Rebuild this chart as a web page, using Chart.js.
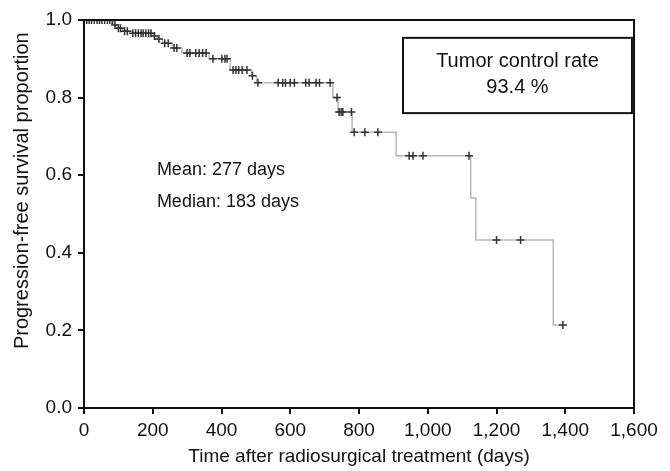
<!DOCTYPE html>
<html><head><meta charset="utf-8">
<script src="https://cdn.jsdelivr.net/npm/chart.js@4/dist/chart.umd.min.js"></script>
<style>html,body{margin:0;padding:0;background:#fff}#wrap{width:670px;height:471px}</style>
</head><body><div id="wrap"><canvas id="c" width="670" height="471"></canvas></div>
<script>
// Kaplan-Meier steps (time in days, survival after event)
const eventTimes = [0, 86, 96, 112, 138, 200, 212, 229, 257, 285, 364, 425, 488, 502, 724, 739, 780, 908, 1125, 1140, 1365, 1393];
const eventSurv  = [1.0, 0.987, 0.979, 0.971, 0.966, 0.959, 0.951, 0.940, 0.928, 0.915, 0.900, 0.871, 0.856, 0.838, 0.800, 0.763, 0.711, 0.650, 0.541, 0.433, 0.214, 0.214];
// Censored observations
const censorTimes = [8,15,22,30,38,45,52,60,68,75,82, 90, 100,106, 118,126, 142,150,158,166,172,180,188,195, 205, 218, 235,245, 262,270, 300,308,325,335,345,355, 375,401,410,416, 434,442,450,460,474, 490, 506,565,578,586,600,612,645,655,675,685,716, 736, 742,748,753,778, 786,817,855, 946,957,986,1120, 1200,1270, 1393];
const censorSurv  = [1,1,1,1,1,1,1,1,1,1,1, 0.987, 0.979,0.979, 0.971,0.971, 0.966,0.966,0.966,0.966,0.966,0.966,0.966,0.966, 0.959, 0.951, 0.940,0.940, 0.928,0.928, 0.915,0.915,0.915,0.915,0.915,0.915, 0.900,0.900,0.900,0.900, 0.871,0.871,0.871,0.871,0.871, 0.856, 0.838,0.838,0.838,0.838,0.838,0.838,0.838,0.838,0.838,0.838,0.838, 0.800, 0.763,0.763,0.763,0.763, 0.711,0.711,0.711, 0.650,0.650,0.650,0.650, 0.433,0.433, 0.214];
const xTicks = [0,200,400,600,800,1000,1200,1400,1600];
const xTickLabels = ['0','200','400','600','800','1,000','1,200','1,400','1,600'];
const yTicks = [0,0.2,0.4,0.6,0.8,1.0];
const yTickLabels = ['0.0','0.2','0.4','0.6','0.8','1.0'];
const boxLines = ['Tumor control rate', '93.4 %'];
const statLines = ['Mean: 277 days', 'Median: 183 days'];
const yTitle = 'Progression-free survival proportion';
const xTitle = 'Time after radiosurgical treatment (days)';

const FONT = "'Liberation Sans', Arial, Helvetica, sans-serif";

const annot = {
  id: 'annot',
  afterDraw(chart) {
    const {ctx, chartArea: a, scales: {x, y}} = chart;
    ctx.save();
    ctx.strokeStyle = '#111'; ctx.lineWidth = 2;
    ctx.beginPath();
    ctx.moveTo(a.left, a.top); ctx.lineTo(a.right, a.top); ctx.lineTo(a.right, a.bottom);
    ctx.stroke();
    const bx1 = x.getPixelForValue(928), bx2 = x.getPixelForValue(1594);
    const by1 = y.getPixelForValue(0.954), by2 = y.getPixelForValue(0.760);
    ctx.lineWidth = 2;
    ctx.strokeRect(bx1, by1, bx2 - bx1, by2 - by1);
    ctx.fillStyle = '#111';
    ctx.font = '20px ' + FONT;
    ctx.textAlign = 'center'; ctx.textBaseline = 'middle';
    const cx = (bx1 + bx2) / 2;
    ctx.fillText(boxLines[0], cx, by1 + 24);
    ctx.fillText(boxLines[1], cx, by1 + 50);
    ctx.font = '18px ' + FONT;
    ctx.textAlign = 'left';
    ctx.fillText(statLines[0], x.getPixelForValue(212), y.getPixelForValue(0.613));
    ctx.fillText(statLines[1], x.getPixelForValue(212), y.getPixelForValue(0.531));
    // y-axis title
    ctx.save();
    ctx.translate(22, y.getPixelForValue(0.56));
    ctx.rotate(-Math.PI / 2);
    ctx.font = '20px ' + FONT;
    ctx.textAlign = 'center'; ctx.textBaseline = 'middle';
    ctx.fillText(yTitle, 0, 0);
    ctx.restore();
    ctx.restore();
  }
};

new Chart(document.getElementById('c'), {
  type: 'scatter',
  data: {
    datasets: [
      {
        type: 'line',
        data: eventTimes.map((t, i) => ({x: t, y: eventSurv[i]})),
        stepped: 'before',
        borderColor: '#b8b8b8',
        borderWidth: 1.5,
        pointRadius: 0,
        fill: false,
        order: 2
      },
      {
        data: censorTimes.map((t, i) => ({x: t, y: censorSurv[i]})),
        pointStyle: 'cross',
        pointRadius: 4,
        borderColor: '#333',
        backgroundColor: '#333',
        borderWidth: 1.5,
        order: 1
      }
    ]
  },
  options: {
    responsive: false,
    animation: false,
    layout: {padding: {left: 0, right: 36, top: 20, bottom: 0}},
    plugins: {legend: {display: false}, tooltip: {enabled: false}},
    scales: {
      x: {
        type: 'linear', min: 0, max: 1600,
        afterBuildTicks(s) { s.ticks = xTicks.map(v => ({value: v})); },
        afterFit(s) { s.height = 63; },
        ticks: {
          font: {size: 19, family: FONT}, color: '#111', padding: 5,
          callback: (v) => { const i = xTicks.indexOf(v); return i >= 0 ? xTickLabels[i] : ''; }
        },
        grid: {drawOnChartArea: false, drawTicks: true, tickLength: 6, color: '#111', lineWidth: 2},
        border: {display: true, color: '#111', width: 2},
        title: {display: true, text: xTitle, font: {size: 19, family: FONT}, color: '#111', padding: {top: 0, bottom: 3}}
      },
      y: {
        type: 'linear', min: 0, max: 1,
        afterBuildTicks(s) { s.ticks = yTicks.map(v => ({value: v})); },
        afterFit(s) { s.width = 84; },
        ticks: {
          font: {size: 19, family: FONT}, color: '#111', padding: 6,
          callback: (v) => { const i = yTicks.findIndex(t => Math.abs(t - v) < 1e-9); return i >= 0 ? yTickLabels[i] : ''; }
        },
        grid: {drawOnChartArea: false, drawTicks: true, tickLength: 6, color: '#111', lineWidth: 2},
        border: {display: true, color: '#111', width: 2},
        title: {display: false}
      }
    }
  },
  plugins: [annot]
});
</script></body></html>
